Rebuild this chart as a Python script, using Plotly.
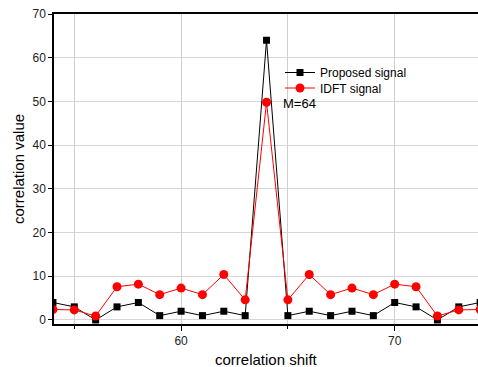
import plotly.graph_objects as go

shift = list(range(54, 75))
proposed = [4, 3, 0, 3, 4, 1, 2, 1, 2, 1, 64, 1, 2, 1, 2, 1, 4, 3, 0, 3, 4]
idft = [2.4, 2.3, 0.9, 7.6, 8.2, 5.8, 7.3, 5.8, 10.4, 4.6, 49.8, 4.6, 10.4, 5.8, 7.3, 5.8, 8.2, 7.6, 0.9, 2.3, 2.4]

font = "Liberation Sans, Arial, sans-serif"
fig = go.Figure()
fig.add_trace(go.Scatter(x=shift, y=proposed, mode="lines+markers", name="Proposed signal",
                         line=dict(color="black", width=1), legend="legend",
                         marker=dict(symbol="square", size=7, color="black")))
fig.add_trace(go.Scatter(x=shift, y=idft, mode="lines+markers", name="IDFT signal",
                         line=dict(color="red", width=1), legend="legend2",
                         marker=dict(symbol="circle", size=9, color="red")))
fig.add_annotation(x=64.7, y=49.6, xref="x", yref="y", text="M=64", showarrow=False,
                   xanchor="left", yanchor="middle", font=dict(size=13, color="black", family=font))
fig.add_annotation(x=0.5, y=0.0, xref="paper", yref="paper", yshift=-35.5, text="correlation shift",
                   showarrow=False, xanchor="center", yanchor="middle",
                   font=dict(size=15, color="black", family=font))
fig.add_annotation(x=0, y=0.5, xref="paper", yref="paper", xshift=-36, text="correlation value",
                   showarrow=False, xanchor="center", yanchor="middle", textangle=-90,
                   font=dict(size=15, color="black", family=font))
leg = dict(xanchor="left", yanchor="middle", bgcolor="rgba(0,0,0,0)",
           font=dict(size=12, color="black", family=font), borderwidth=0)
fig.update_layout(
    width=478, height=367,
    margin=dict(l=54, r=0, t=14, b=43, autoexpand=False),
    paper_bgcolor="white", plot_bgcolor="white",
    font=dict(family=font, size=12, color="#222"),
    showlegend=True,
    legend=dict(x=0.533, y=(324 - 72.5) / 310, **leg),
    legend2=dict(x=0.533, y=(324 - 88) / 310, **leg),
    xaxis=dict(range=[54.05, 73.9], tickvals=[60, 70], ticks="outside", ticklen=5, tickwidth=1,
               tickcolor="black", showline=True, linecolor="black", linewidth=1.5, mirror=True,
               showgrid=True, gridcolor="#cfcfcf", gridwidth=1, automargin=False,
               minor=dict(tickvals=[55, 65], ticks="outside", ticklen=3, tickcolor="black", showgrid=True,
                          gridcolor="#cfcfcf", gridwidth=1),
               tickfont=dict(size=12, color="#222"), zeroline=False),
    yaxis=dict(range=[-0.92, 70], tickvals=[0, 10, 20, 30, 40, 50, 60, 70], ticks="outside", ticklen=4,
               tickcolor="black", showline=True, linecolor="black", linewidth=1.5, automargin=False,
               showgrid=True, gridcolor="#d6d6d6", gridwidth=1, zeroline=False,
               tickfont=dict(size=12, color="#222")),
)
# remove the page's default body margin so the 478x367 figure fills the window exactly
fig.write_html("out.html", config={"displayModeBar": False},
               post_script="document.body.style.margin='0';document.body.style.overflow='hidden';")
